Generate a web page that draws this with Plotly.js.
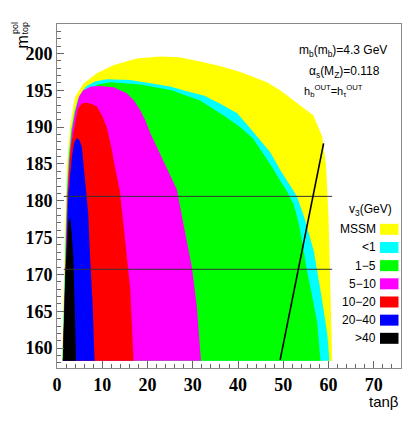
<!DOCTYPE html>
<html>
<head>
<meta charset="utf-8">
<script src="https://cdn.plot.ly/plotly-3.0.1.min.js"></script>
<style>html,body{margin:0;padding:0;background:#fff;}#chart{width:415px;height:423px;}</style>
</head>
<body>
<div id="chart"></div>
<script>
// ---- Data (x = tan beta, y = m_top^pol in GeV) ----
const mssmX = [1.1, 1.4, 1.7, 2.0, 2.3, 2.9, 3.6, 4.0, 5.8, 8.8, 12.4, 17.6, 22.8, 27.0, 31.6, 36.0, 40.5, 46.4, 49.3, 53.0, 56.6, 58.6, 59.4, 59.7, 60.0, 60.4, 60.8];
const mssmY = [158.3, 167.5, 175.0, 181.1, 185.5, 190.0, 192.8, 194.1, 195.9, 197.3, 198.4, 199.3, 199.6, 199.5, 198.9, 198.3, 197.5, 196.1, 195.0, 193.3, 191.6, 188.7, 185.0, 181.5, 177.4, 168.0, 158.3];

const lt1X = [1.2, 1.55, 1.85, 2.15, 2.5, 3.1, 3.8, 4.6, 5.5, 6.5, 8.4, 11.0, 16.2, 22.8, 25.0, 28.5, 32.4, 36.0, 39.8, 42.5, 44.9, 47.1, 49.3, 51.2, 53.0, 54.6, 56.7, 58.2, 59.7, 60.2];
const lt1Y = [158.3, 167.5, 175.0, 181.0, 185.5, 189.5, 192.0, 193.8, 194.8, 195.6, 196.2, 196.5, 196.4, 195.7, 195.5, 194.9, 194.3, 193.2, 191.9, 190.0, 188.2, 186.6, 184.2, 182.3, 180.6, 177.8, 173.3, 167.9, 162.0, 158.3];

const r1to5X = [1.25, 1.65, 1.95, 2.25, 2.6, 3.2, 3.9, 4.8, 7.0, 9.0, 11.7, 18.4, 25.3, 31.6, 37.5, 40.5, 43.4, 45.5, 47.5, 49.5, 50.8, 52.3, 53.4, 54.5, 55.2, 56.4, 57.5, 58.2];
const r1to5Y = [158.3, 167.5, 175.0, 181.0, 185.5, 189.5, 192.0, 194.0, 195.0, 195.8, 196.1, 195.8, 195.0, 193.6, 191.3, 190.0, 188.4, 186.5, 184.6, 182.5, 181.3, 179.5, 177.0, 173.3, 170.6, 167.0, 163.4, 158.3];

const r5to10X = [1.3, 1.7, 2.0, 2.3, 2.7, 3.3, 4.0, 4.9, 5.8, 7.5, 9.5, 12.5, 15.4, 17.0, 18.4, 19.6, 20.6, 23.0, 25.0, 26.5, 27.9, 29.8, 30.9, 31.8];
const r5to10Y = [158.3, 167.5, 175.0, 181.0, 185.5, 189.5, 192.0, 194.2, 195.0, 195.5, 195.6, 195.4, 194.6, 193.6, 192.3, 190.8, 189.2, 186.0, 183.5, 181.5, 177.0, 171.0, 165.6, 158.3];

const r10to20X = [1.3, 1.75, 2.05, 2.4, 2.8, 3.2, 4.0, 4.6, 5.5, 6.6, 7.8, 8.8, 10.0, 11.0, 12.1, 12.5, 13.9, 15.0, 16.2, 16.9];
const r10to20Y = [158.3, 167.5, 175.0, 181.0, 185.5, 187.8, 190.5, 192.5, 193.2, 193.3, 193.1, 192.8, 191.5, 190.0, 187.0, 185.5, 181.3, 174.7, 167.9, 158.3];

const r20to40X = [1.3, 1.8, 2.1, 2.5, 2.9, 3.3, 3.76, 4.2, 4.5, 5.0, 5.5, 6.2, 6.9, 7.3, 7.9, 8.3];
const r20to40Y = [158.3, 167.5, 175.0, 181.0, 183.5, 186.0, 187.8, 188.4, 188.5, 188.2, 187.3, 182.8, 178.3, 172.4, 165.6, 158.3];

const gt40X = [1.3, 1.5, 1.85, 2.5, 2.9, 3.2, 3.6, 4.0, 4.2];
const gt40Y = [158.3, 163.4, 170.2, 177.0, 177.8, 176.0, 172.4, 163.4, 158.3];

const hLineX = [1.5, 60.8];
const hLine1Y = [180.6, 180.6];
const hLine2Y = [170.7, 170.7];
const diagX = [49.3, 58.9];
const diagY = [158.4, 187.8];

const xTickVals = [0, 10, 20, 30, 40, 50, 60, 70];
const yTickVals = [160, 165, 170, 175, 180, 185, 190, 195, 200];

const legendLabels = ["MSSM", "<1", "1\u22125", "5\u221210", "10\u221220", "20\u221240", ">40"];
const legendColors = ["#ffff00", "#00ffff", "#00ff00", "#ff00ff", "#ff0000", "#0000ff", "#000000"];

// ---- Build traces ----
const regionXs = [mssmX, lt1X, r1to5X, r5to10X, r10to20X, r20to40X, gt40X];
const regionYs = [mssmY, lt1Y, r1to5Y, r5to10Y, r10to20Y, r20to40Y, gt40Y];

const traces = regionXs.map((xs, i) => ({
  type: "scatter", mode: "lines",
  x: xs, y: regionYs[i],
  fill: "toself", fillcolor: legendColors[i],
  line: {width: 0, color: legendColors[i]},
  name: legendLabels[i], showlegend: false, hoverinfo: "skip"
}));

traces.push({type: "scatter", mode: "lines", x: hLineX, y: hLine1Y, line: {color: "#333", width: 1}, showlegend: false, hoverinfo: "skip"});
traces.push({type: "scatter", mode: "lines", x: hLineX, y: hLine2Y, line: {color: "#333", width: 1}, showlegend: false, hoverinfo: "skip"});
traces.push({type: "scatter", mode: "lines", x: diagX, y: diagY, line: {color: "#000", width: 1.6}, showlegend: false, hoverinfo: "skip"});

// ---- Layout ----
const L = 57, R = 14, T = 24, B = 55, W = 415, H = 423;
const pw = W - L - R, ph = H - T - B;
const px2x = p => (p - L) / pw;
const py2y = p => (H - B - p) / ph;

const txtFont = {family: "Liberation Sans, Arial, sans-serif", size: 12, color: "#000"};
const annotations = [];
const shapes = [];

// legend title
annotations.push({xref: "paper", yref: "paper", x: px2x(370), y: py2y(210), xanchor: "center", yanchor: "middle",
  text: "v<sub>3</sub>(GeV)", showarrow: false, font: txtFont});
legendLabels.forEach((lab, i) => {
  const cy = 229.3 + i * 18.17;
  annotations.push({xref: "paper", yref: "paper", x: px2x(377.5), y: py2y(cy), xanchor: "right", yanchor: "middle",
    text: lab.replace("<", "&lt;").replace(">", "&gt;"), showarrow: false, font: txtFont});
  shapes.push({type: "rect", xref: "paper", yref: "paper", x0: px2x(380), x1: px2x(398.5),
    y0: py2y(cy + 5.5), y1: py2y(cy - 5.5), fillcolor: legendColors[i], line: {width: 0}});
});

// info text
annotations.push({xref: "paper", yref: "paper", x: px2x(343), y: py2y(50.7), xanchor: "center", yanchor: "middle",
  text: "m<sub>b</sub>(m<sub>b</sub>)=4.3 GeV", showarrow: false, font: txtFont});
annotations.push({xref: "paper", yref: "paper", x: px2x(344), y: py2y(71.7), xanchor: "center", yanchor: "middle",
  text: "\u03b1<sub>s</sub>(M<sub>Z</sub>)=0.118", showarrow: false, font: txtFont});
annotations.push({xref: "paper", yref: "paper", x: px2x(333), y: py2y(91), xanchor: "center", yanchor: "middle",
  text: "h<sub>b</sub><sup>OUT</sup>=h<sub>\u03c4</sub><sup>OUT</sup>", showarrow: false, font: {family: txtFont.family, size: 11, color: "#000"}});

// axis titles
annotations.push({xref: "paper", yref: "paper", x: px2x(22), y: py2y(42.5), xanchor: "center", yanchor: "middle",
  text: "m", textangle: -90, showarrow: false, font: {family: txtFont.family, size: 16, color: "#000"}});
annotations.push({xref: "paper", yref: "paper", x: px2x(15), y: py2y(28), xanchor: "center", yanchor: "middle",
  text: "pol", textangle: -90, showarrow: false, font: {family: txtFont.family, size: 9, color: "#000"}});
annotations.push({xref: "paper", yref: "paper", x: px2x(24), y: py2y(28.5), xanchor: "center", yanchor: "middle",
  text: "top", textangle: -90, showarrow: false, font: {family: txtFont.family, size: 9, color: "#000"}});
annotations.push({xref: "paper", yref: "paper", x: px2x(384), y: py2y(401), xanchor: "center", yanchor: "middle",
  text: "tan\u03b2", showarrow: false, font: {family: txtFont.family, size: 15, color: "#000"}});

const tickFont = {family: "Liberation Serif, Times New Roman, serif", size: 18, color: "#000", weight: "bold"};

const layout = {
  width: W, height: H,
  margin: {l: L, r: R, t: T, b: B, pad: 0},
  paper_bgcolor: "#fff", plot_bgcolor: "#fff",
  showlegend: false,
  xaxis: {
    range: [0, 76], tickmode: "array", tickvals: xTickVals, ticktext: xTickVals.map(String),
    ticks: "inside", ticklen: 7, tickcolor: "#666", tickwidth: 1,
    minor: {dtick: 2, tick0: 0, ticks: "inside", ticklen: 4, tickcolor: "#666", showgrid: false},
    showgrid: false, zeroline: false, showline: true, linecolor: "#888", linewidth: 1, mirror: true,
    tickfont: tickFont, fixedrange: true
  },
  yaxis: {
    range: [157.3, 204], tickmode: "array", tickvals: yTickVals, ticktext: yTickVals.map(String),
    ticks: "inside", ticklen: 7, tickcolor: "#666", tickwidth: 1,
    minor: {dtick: 1, tick0: 0, ticks: "inside", ticklen: 4, tickcolor: "#666", showgrid: false},
    showgrid: false, zeroline: false, showline: true, linecolor: "#888", linewidth: 1, mirror: true,
    tickfont: tickFont, fixedrange: true
  },
  annotations: annotations,
  shapes: shapes
};

Plotly.newPlot("chart", traces, layout, {displayModeBar: false, staticPlot: true});
</script>
</body>
</html>
